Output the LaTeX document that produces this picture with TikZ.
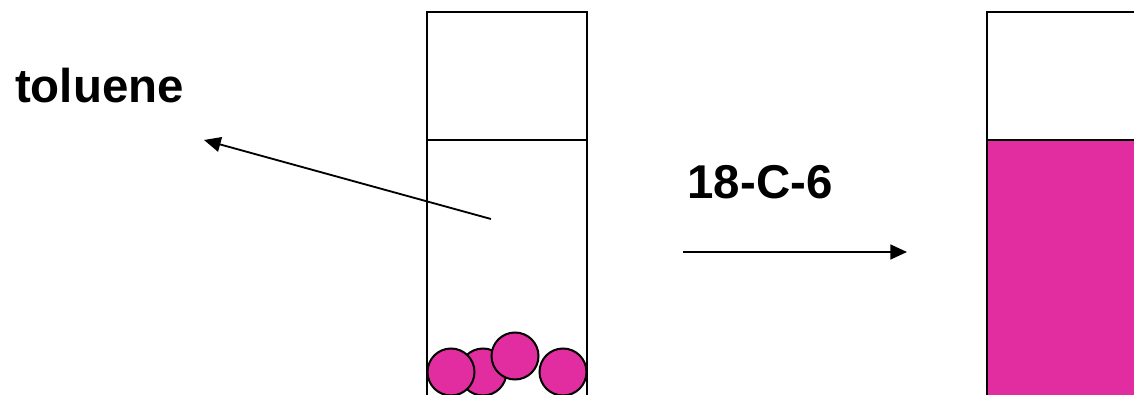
\documentclass[tikz,border=0pt]{standalone}
\usepackage{fontspec}
\setmainfont{Liberation Sans}
\usetikzlibrary{arrows.meta, positioning}
\definecolor{Bead_Magenta}{HTML}{E22DA0}

\begin{document}
\begin{tikzpicture}[
    x=0.02cm,
    y=-0.02cm,
    line width=1.05pt,
    >={Triangle[length=9.5pt, width=8.5pt]},
    vial/.style={
        draw=black,
        line width=1.05pt
    },
    bead/.style={
        circle,
        draw=black,
        line width=1.15pt,
        fill=Bead_Magenta,
        minimum size=0.94cm,
        inner sep=0pt
    },
    solvent/.style={
        font=\bfseries\fontsize{27}{32}\selectfont,
        text=black,
        anchor=base
    }
]

% Page
\clip (0, 0) rectangle (1134, 395);

% Labels
\node[solvent] (toluene) at (99.5, 103) {toluene};
\node[solvent] (crown) at (760, 198.5) {18-C-6};

% Left vial
\draw[vial] (427, 420) -- (427, 12) -- (587, 12) -- (587, 420);
\draw[vial] (427, 140) -- (587, 140);

% Beads
\node[bead] (beadB) at (483, 372) {};
\node[bead] (beadA) at (451, 372) {};
\node[bead] (beadC) at (515, 356) {};
\node[bead] (beadD) at (563, 372) {};

% Right vial
\fill[Bead_Magenta] (987, 140) rectangle (1147, 420);
\draw[vial] (987, 420) -- (987, 12) -- (1147, 12) -- (1147, 420);
\draw[vial] (987, 140) -- (1147, 140);

% Arrows
\coordinate (outStart) at (491, 219);
\coordinate (outEnd) at (204, 140);
\coordinate (addStart) at (683, 252);
\coordinate (addEnd) at (907, 252);
\draw[->] (outStart) -- (outEnd);
\draw[->] (addStart) -- (addEnd);

\end{tikzpicture}
\end{document}
